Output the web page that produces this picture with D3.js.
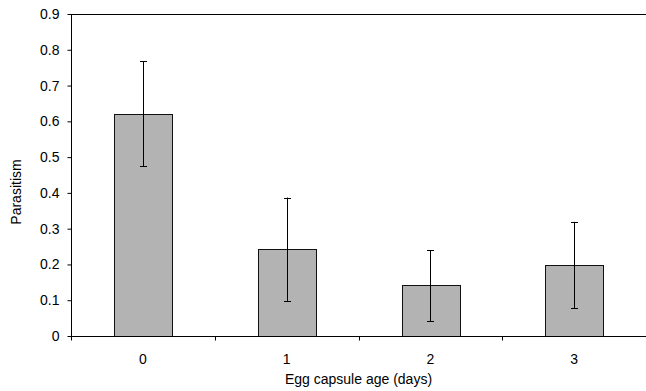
<!DOCTYPE html>
<html>
<head>
<meta charset="utf-8">
<script src="https://cdn.jsdelivr.net/npm/d3@7"></script>
<style>
  body { margin: 0; background: #fff; }
  text { font-family: "Liberation Sans", Arial, sans-serif; fill: #000; }
</style>
</head>
<body>
<svg class="chart"></svg>
<script>
var width = 646,
    height = 391;
var margin = {top: 14, right: 0, bottom: 55, left: 71};

var ages = ["0", "1", "2", "3"];
var parasitism = [0.621, 0.243, 0.142, 0.199];
var errLow = [0.475, 0.098, 0.042, 0.077];
var errHigh = [0.768, 0.387, 0.240, 0.319];
var yTicks = [0, 0.1, 0.2, 0.3, 0.4, 0.5, 0.6, 0.7, 0.8, 0.9];

var svg = d3.select("svg.chart")
    .attr("width", width)
    .attr("height", height);

var plotW = 575,
    plotH = 322;

var g = svg.append("g")
    .attr("transform", "translate(" + margin.left + "," + margin.top + ")");

var x = d3.scaleBand()
    .domain(ages)
    .range([0, plotW])
    .paddingInner(0.6)
    .paddingOuter(0.3);

var y = d3.scaleLinear()
    .domain([0, 0.9])
    .range([plotH, 0]);

// top border of plot area
g.append("line")
    .attr("x1", 0).attr("x2", plotW)
    .attr("y1", 0.5).attr("y2", 0.5)
    .attr("stroke", "#000");

// bars
g.selectAll(".bar")
    .data(ages)
    .enter().append("rect")
    .attr("class", "bar")
    .attr("x", function(d) { return Math.round(x(d)) + 0.5; })
    .attr("y", function(d, i) { return Math.round(y(parasitism[i])) + 0.5; })
    .attr("width", Math.round(x.bandwidth()))
    .attr("height", function(d, i) { return Math.round(plotH - y(parasitism[i])); })
    .attr("fill", "#b3b3b3")
    .attr("stroke", "#111")
    .attr("stroke-width", 1);

// error bars
var cx = function(d) { return Math.round(x(d) + x.bandwidth() / 2) + 0.5; };
var err = g.selectAll(".err")
    .data(ages)
    .enter().append("g")
    .attr("class", "err")
    .attr("stroke", "#000");
err.append("line")
    .attr("x1", cx).attr("x2", cx)
    .attr("y1", function(d, i) { return y(errLow[i]); })
    .attr("y2", function(d, i) { return y(errHigh[i]); });
err.append("line")
    .attr("x1", function(d) { return cx(d) - 3.5; })
    .attr("x2", function(d) { return cx(d) + 3.5; })
    .attr("y1", function(d, i) { return Math.round(y(errHigh[i])) + 0.5; })
    .attr("y2", function(d, i) { return Math.round(y(errHigh[i])) + 0.5; });
err.append("line")
    .attr("x1", function(d) { return cx(d) - 3.5; })
    .attr("x2", function(d) { return cx(d) + 3.5; })
    .attr("y1", function(d, i) { return Math.round(y(errLow[i])) + 0.5; })
    .attr("y2", function(d, i) { return Math.round(y(errLow[i])) + 0.5; });

// y axis
var yAxis = g.append("g")
    .attr("transform", "translate(0.5,0)")
    .call(d3.axisLeft(y).tickValues(yTicks).tickSize(4).tickPadding(8)
        .tickFormat(function(d) { return d === 0 ? "0" : d3.format(".1f")(d); }));
yAxis.selectAll("text").style("font-size", "14px");
yAxis.select(".domain").attr("d", "M0," + plotH + "V0");

// x axis with ticks at category boundaries
var xAxis = g.append("g")
    .attr("transform", "translate(0," + (plotH + 0.5) + ")");
xAxis.append("line")
    .attr("x1", 0).attr("x2", plotW)
    .attr("stroke", "#000");
xAxis.selectAll(".bt")
    .data(d3.range(ages.length + 1))
    .enter().append("line")
    .attr("class", "bt")
    .attr("x1", function(i) { return Math.round(i * plotW / ages.length) + 0.5; })
    .attr("x2", function(i) { return Math.round(i * plotW / ages.length) + 0.5; })
    .attr("y1", 0).attr("y2", 4)
    .attr("stroke", "#000");
xAxis.selectAll(".lbl")
    .data(ages)
    .enter().append("text")
    .attr("class", "lbl")
    .attr("x", function(d) { return x(d) + x.bandwidth() / 2; })
    .attr("y", 27)
    .attr("text-anchor", "middle")
    .style("font-size", "14px")
    .text(function(d) { return d; });

// axis titles
svg.append("text")
    .attr("x", margin.left + plotW / 2)
    .attr("y", 384)
    .attr("text-anchor", "middle")
    .style("font-size", "14px")
    .text("Egg capsule age (days)");

svg.append("text")
    .attr("transform", "translate(21," + (margin.top + plotH / 2 + 17) + ") rotate(-90)")
    .attr("text-anchor", "middle")
    .style("font-size", "14px")
    .text("Parasitism");
</script>
</body>
</html>
